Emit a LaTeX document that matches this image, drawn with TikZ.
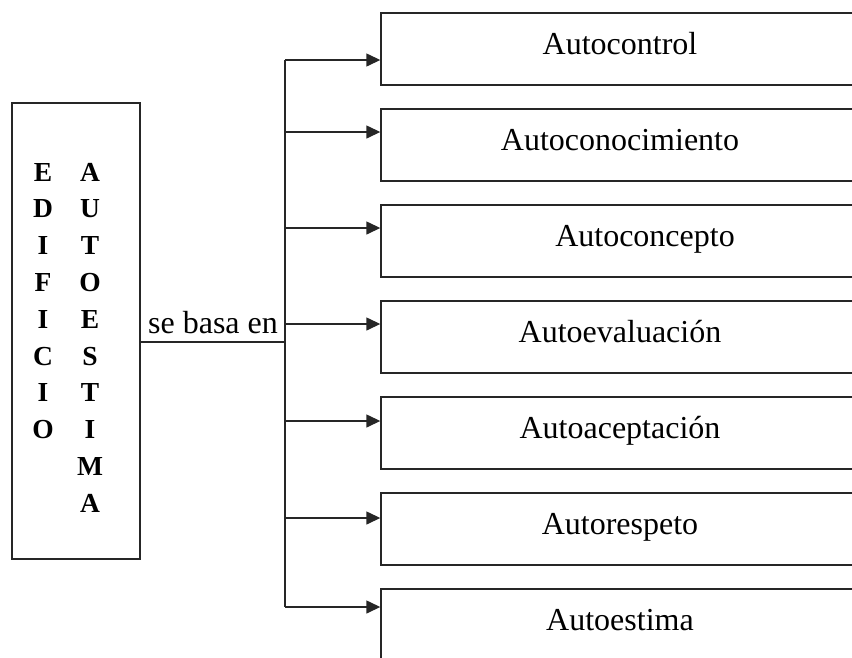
\documentclass[tikz,border=0pt]{standalone}
\usepackage{fontspec}
\setmainfont{Liberation Serif}
\usetikzlibrary{arrows.meta}
\tikzset{
  ink/.style={line width=1.4pt, draw=black!85},
  sidebox/.style={ink, minimum width=128pt, minimum height=456pt, inner sep=0pt},
  letter/.style={font=\fontsize{27.5}{30}\selectfont\bfseries, anchor=base, inner sep=0pt},
  itembox/.style={ink, minimum width=478pt, minimum height=72pt, inner sep=0pt,
    text height=15pt, text depth=5pt, font=\fontsize{32}{36}\selectfont},
  conn/.style={ink},
  arr/.style={ink, -{Triangle[length=14pt,width=13pt]}},
  lbl/.style={font=\fontsize{32}{36}\selectfont, anchor=base, inner sep=0pt}
}
\begin{document}
\begin{tikzpicture}[x=1pt,y=-1pt]
\useasboundingbox (0,0) rectangle (852,657);
% left box
\node[sidebox] (edif) at (76,331) {};
\foreach \l [count=\i] in {E,D,I,F,I,C,I,O}
  \node[letter] (e\i) at (43,{181+(\i-1)*36.8}) {\l};
\foreach \l [count=\i] in {A,U,T,O,E,S,T,I,M,A}
  \node[letter] (a\i) at (90,{181+(\i-1)*36.8}) {\l};
% right boxes
\node[itembox] (b1) at (620,49) {Autocontrol};
\node[itembox] (b2) at (620,145) {Autoconocimiento};
\node[itembox] (b3) at (620,241) {\hspace*{50pt}Autoconcepto};
\node[itembox] (b4) at (620,337) {Autoevaluación};
\node[itembox] (b5) at (620,433) {Autoaceptación};
\node[itembox] (b6) at (620,529) {Autorespeto};
\node[itembox] (b7) at (620,625) {Autoestima};
% trunk points
\coordinate (t1) at (285,60);
\coordinate (t2) at (285,132);
\coordinate (t3) at (285,228);
\coordinate (t4) at (285,324);
\coordinate (t5) at (285,421);
\coordinate (t6) at (285,518);
\coordinate (t7) at (285,607);
\coordinate (jn) at (285,342);
\draw[conn] (t1) -- (t7);
\draw[conn] (edif.east |- jn) -- (jn);
\node[lbl] (basa) at (213,333) {se basa en};
\foreach \i in {1,...,7}
  \draw[arr] (t\i) -- (b\i.west |- t\i);
\end{tikzpicture}
\end{document}
